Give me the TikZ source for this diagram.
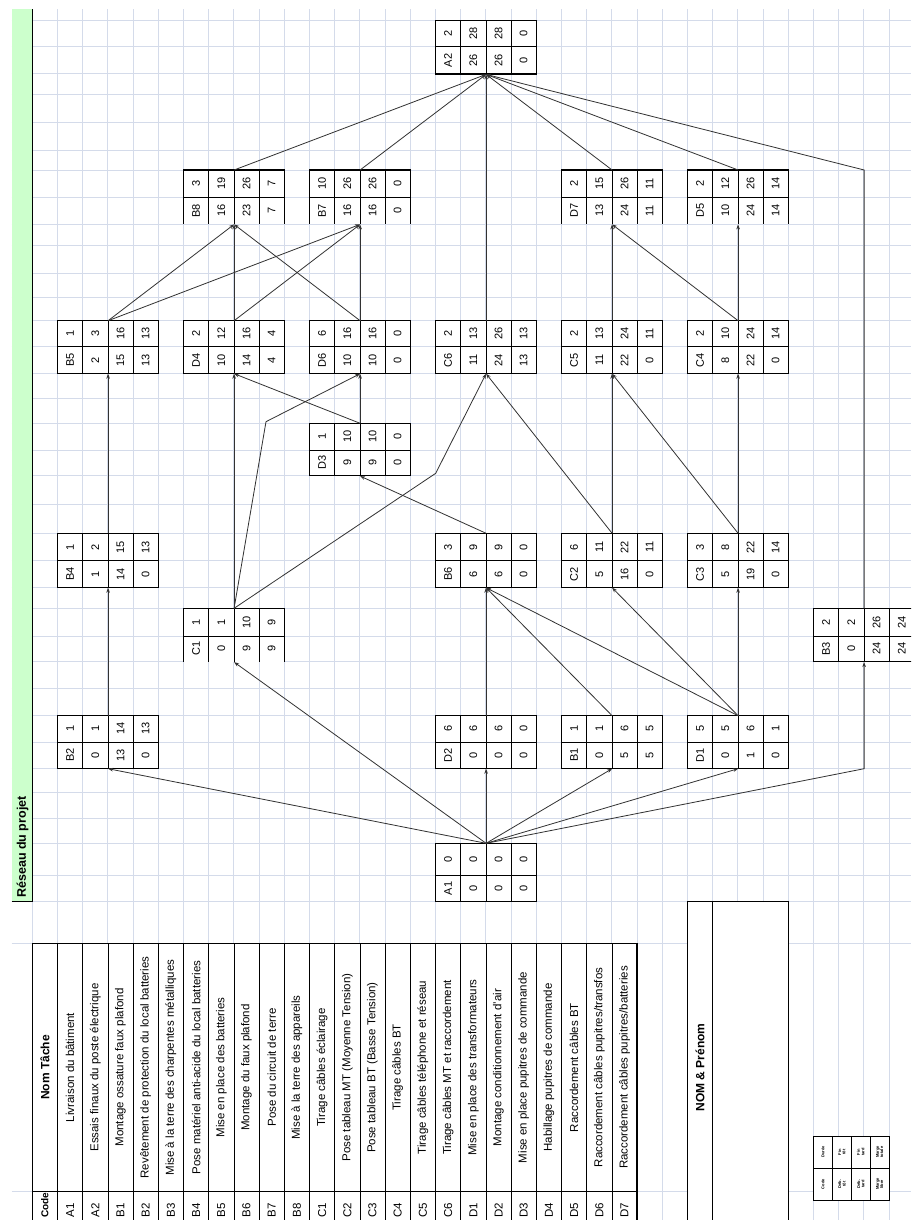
\documentclass[tikz,border=0pt]{standalone}
\usepackage{fontspec}
\setmainfont{Liberation Sans}
\usetikzlibrary{arrows.meta}
\definecolor{gridc}{RGB}{212,219,234}
\definecolor{titlegreen}{RGB}{204,255,204}
\definecolor{wire}{RGB}{50,50,50}

\begin{document}
\begin{tikzpicture}[x=1pt,y=-1pt,
  gridline/.style={gridc,line width=1pt},
  outer/.style={black,line width=1.3pt},
  inner/.style={black,line width=0.8pt},
  cell/.style={rotate=90,inner sep=0pt,font=\fontsize{11}{11}\selectfont},
  tabtext/.style={rotate=90,inner sep=0pt,font=\fontsize{11.5}{12}\selectfont},
  tabhead/.style={rotate=90,inner sep=0pt,font=\fontsize{12}{12}\selectfont\bfseries},
  keytext/.style={rotate=90,inner sep=0pt,align=center,font=\fontsize{4}{4.4}\selectfont\bfseries},
  arr/.style={wire,line width=0.8pt,-{Stealth[length=5pt,width=3.6pt]}},
  netbox/.style={inner sep=0pt,minimum width=100.8pt,anchor=north west}]
\useasboundingbox (0,0) rectangle (911,1220);
\clip (0,0) rectangle (911,1220);
\fill[white] (0,0) rectangle (911,1220);

% worksheet grid
\foreach \gy in {20.7,46.7,74,95,122.3,150,170,197.3,224,245,273.3,297.7,320.7,346.7,373.3,398,423.3,450,475.7,504,533.3,560.7,587.3,608.3,636,661.7,688,715.7,742,768.3,792,818,843.3,875,901.7,943.3,1191.7}
  \draw[gridline] (11.7,\gy) -- (911,\gy);
\foreach \k in {0,...,35}
  \draw[gridline] ({32.3+25.2*\k},9.3) -- ({32.3+25.2*\k},1220);

% title band
\fill[titlegreen] (11.7,9.3) rectangle (32.3,901.7);
\draw[outer] (32.3,9.3) -- (32.3,901.7);
\draw[inner] (11.7,901.7) -- (32.3,901.7);
\node[tabhead,anchor=west,font=\fontsize{12.5}{13}\selectfont\bfseries] (title) at (22.5,898) {Réseau du projet};

% task list
\fill[white] (32.3,943.3) rectangle (637.1,1230);
\foreach \k in {1,...,23}
  \draw[inner] ({32.3+25.2*\k},943.3) -- ({32.3+25.2*\k},1230);
\draw[outer] (32.3,1191.7) -- (637.1,1191.7);
\draw[outer] (57.5,943.3) -- (57.5,1230);
\draw[outer] (32.3,1230) -- (32.3,943.3) -- (637.1,943.3) -- (637.1,1230);
\node[tabhead] (hname) at (44.9,1067.5) {Nom Tâche};
\node[tabhead,anchor=west,font=\fontsize{10}{10}\selectfont\bfseries] (hcode) at (44.9,1218) {Code};
\foreach \k/\cd/\tx in {
  1/A1/{Livraison du bâtiment},
  2/A2/{Essais finaux du poste électrique},
  3/B1/{Montage ossature faux plafond},
  4/B2/{Revêtement de protection du local batteries},
  5/B3/{Mise à la terre des charpentes métalliques},
  6/B4/{Pose matériel anti-acide du local batteries},
  7/B5/{Mise en place des batteries},
  8/B6/{Montage du faux plafond},
  9/B7/{Pose du circuit de terre},
  10/B8/{Mise à la terre des appareils},
  11/C1/{Tirage câbles éclairage},
  12/C2/{Pose tableau MT (Moyenne Tension)},
  13/C3/{Pose tableau BT (Basse Tension)},
  14/C4/{Tirage câbles BT},
  15/C5/{Tirage câbles téléphone et réseau},
  16/C6/{Tirage câbles MT et raccordement},
  17/D1/{Mise en place des transformateurs},
  18/D2/{Montage conditionnement d'air},
  19/D3/{Mise en place pupitres de commande},
  20/D4/{Habillage pupitres de commande},
  21/D5/{Raccordement câbles BT},
  22/D6/{Raccordement câbles pupitres/transfos},
  23/D7/{Raccordement câbles pupitres/batteries}} {
  \node[tabtext] (name\k) at ({44.9+25.2*\k},1067.5) {\tx};
  \node[tabtext] (code\k) at ({44.9+25.2*\k},1210) {\cd};
}

% name box
\fill[white] (687.5,901.7) rectangle (788.3,1230);
\draw[outer] (687.5,1230) -- (687.5,901.7) -- (788.3,901.7) -- (788.3,1230);
\draw[outer] (712.7,901.7) -- (712.7,1230);
\node[tabhead] (student) at (700.1,1067.5) {NOM \& Prénom};

% key to the activity boxes
\fill[white] (813.5,1136) rectangle (889.1,1200);
\foreach \k in {1,2,3}
  \draw[black,line width=0.5pt] ({813.5+18.9*\k},1136) -- ({813.5+18.9*\k},1200);
\draw[black,line width=0.5pt] (813.5,1168) -- (889.1,1168);
\draw[black,line width=0.8pt] (813.5,1136) rectangle (889.1,1200);
\foreach \k/\ta/\tb in {0/{Durée}/{Code},1/{Fin\\tôt}/{Déb.\\tôt},2/{Fin\\tard}/{Déb.\\tard},3/{Marge\\totale}/{Marge\\libre}}{
  \node[keytext] (keya\k) at ({822.95+18.9*\k},1152) {\ta};
  \node[keytext] (keyb\k) at ({822.95+18.9*\k},1184) {\tb};
}

% activity boxes: name / left x / top / middle / bottom / open base / code / duration / ES / EF / LS / LF / free float / total float
\foreach \nm/\px/\ty/\my/\by/\op/\cd/\du/\es/\ef/\ls/\lf/\ml/\mt in {
  A2/435.5/20.7/46.7/74/0/A2/2/26/28/26/28/0/0,
  B8/183.5/170/197.3/224/1/B8/3/16/19/23/26/7/7,
  B7/309.5/170/197.3/224/1/B7/10/16/26/16/26/0/0,
  D7/561.5/170/197.3/224/1/D7/2/13/15/24/26/11/11,
  D5/687.5/170/197.3/224/1/D5/2/10/12/24/26/14/14,
  B5/57.5/320.7/346.7/373.3/0/B5/1/2/3/15/16/13/13,
  D4/183.5/320.7/346.7/373.3/0/D4/2/10/12/14/16/4/4,
  D6/309.5/320.7/346.7/373.3/0/D6/6/10/16/10/16/0/0,
  C6/435.5/320.7/346.7/373.3/0/C6/2/11/13/24/26/13/13,
  C5/561.5/320.7/346.7/373.3/0/C5/2/11/13/22/24/0/11,
  C4/687.5/320.7/346.7/373.3/0/C4/2/8/10/22/24/0/14,
  D3/309.5/423.3/450/475.7/0/D3/1/9/10/9/10/0/0,
  B4/57.5/533.3/560.7/587.3/0/B4/1/1/2/14/15/0/13,
  B6/435.5/533.3/560.7/587.3/0/B6/3/6/9/6/9/0/0,
  C2/561.5/533.3/560.7/587.3/0/C2/6/5/11/16/22/0/11,
  C3/687.5/533.3/560.7/587.3/0/C3/3/5/8/19/22/0/14,
  C1/183.5/608.3/636/661.7/1/C1/1/0/1/9/10/9/9,
  B3/813.5/608.3/636/661.7/0/B3/2/0/2/24/26/24/24,
  B2/57.5/715.7/742/768.3/0/B2/1/0/1/13/14/0/13,
  D2/435.5/715.7/742/768.3/0/D2/6/0/6/0/6/0/0,
  B1/561.5/715.7/742/768.3/0/B1/1/0/1/5/6/5/5,
  D1/687.5/715.7/742/768.3/0/D1/5/0/5/1/6/0/1,
  A1/435.5/843.3/875/901.7/0/A1/0/0/0/0/0/0/0} {
  \node[netbox,minimum height={(\by-\ty)*1pt}] (\nm) at (\px,\ty) {};
  \fill[white] (\px,\ty) rectangle ({\px+100.8},\by);
  \foreach \k in {1,2,3}
    \draw[inner] ({\px+25.2*\k},\ty) -- ({\px+25.2*\k},\by);
  \draw[inner] (\px,\my) -- ({\px+100.8},\my);
  \ifnum\op=1
    \draw[outer] (\px,\by) -- (\px,\ty) -- ({\px+100.8},\ty) -- ({\px+100.8},\by);
  \else
    \draw[outer] (\px,\ty) rectangle ({\px+100.8},\by);
  \fi
  \node[cell] at ({\px+12.6},{(\ty+\my)/2}) {\du};
  \node[cell] at ({\px+37.8},{(\ty+\my)/2}) {\ef};
  \node[cell] at ({\px+63},{(\ty+\my)/2}) {\lf};
  \node[cell] at ({\px+88.2},{(\ty+\my)/2}) {\mt};
  \node[cell] at ({\px+12.6},{(\my+\by)/2}) {\cd};
  \node[cell] at ({\px+37.8},{(\my+\by)/2}) {\es};
  \node[cell] at ({\px+63},{(\my+\by)/2}) {\ls};
  \node[cell] at ({\px+88.2},{(\my+\by)/2}) {\ml};
}

% bend points of the routed links
\coordinate (bendB3low) at (B3.south |- D1.south);
\coordinate (bendB3high) at (B3.north |- D5.north);
\coordinate (bendC1a) at (266,421.7);
\coordinate (bendC1b) at (435.7,473.3);

% precedence links
\draw[arr] (A1.north) -- (B2.south);
\draw[arr] (A1.north) -- (C1.south);
\draw[arr] (A1.north) -- (D2.south);
\draw[arr] (A1.north) -- (B1.south);
\draw[arr] (A1.north) -- (D1.south);
\draw[arr] (A1.north) -- (bendB3low) -- (B3.south);
\draw[arr] (B2.north) -- (B4.south);
\draw[arr] (B4.north) -- (B5.south);
\draw[arr] (C1.north) -- (D4.south);
\draw[arr] (C1.north) -- (bendC1a) -- (D6.south);
\draw[arr] (C1.north) -- (bendC1b) -- (C6.south);
\draw[arr] (D2.north) -- (B6.south);
\draw[arr] (B1.north) -- (B6.south);
\draw[arr] (D1.north) -- (B6.south);
\draw[arr] (D1.north) -- (C2.south);
\draw[arr] (D1.north) -- (C3.south);
\draw[arr] (B6.north) -- (D3.south);
\draw[arr] (C2.north) -- (C6.south);
\draw[arr] (C2.north) -- (C5.south);
\draw[arr] (C3.north) -- (C5.south);
\draw[arr] (C3.north) -- (C4.south);
\draw[arr] (D3.north) -- (D4.south);
\draw[arr] (D3.north) -- (D6.south);
\draw[arr] (B5.north) -- (B8.south);
\draw[arr] (B5.north) -- (B7.south);
\draw[arr] (D4.north) -- (B8.south);
\draw[arr] (D4.north) -- (B7.south);
\draw[arr] (D6.north) -- (B8.south);
\draw[arr] (D6.north) -- (B7.south);
\draw[arr] (C5.north) -- (D7.south);
\draw[arr] (C4.north) -- (D7.south);
\draw[arr] (C4.north) -- (D5.south);
\draw[arr] (B8.north) -- (A2.south);
\draw[arr] (B7.north) -- (A2.south);
\draw[arr] (C6.north) -- (A2.south);
\draw[arr] (D7.north) -- (A2.south);
\draw[arr] (D5.north) -- (A2.south);
\draw[arr] (B3.north) -- (bendB3high) -- (A2.south);
\end{tikzpicture}
\end{document}
